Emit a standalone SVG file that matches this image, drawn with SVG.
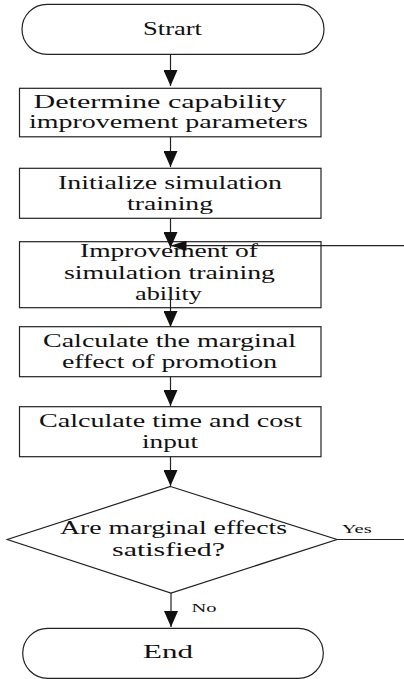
<svg xmlns="http://www.w3.org/2000/svg" width="404" height="679" viewBox="0 0 404 679">
<style>
.shape{fill:#fff;stroke:#222;stroke-width:1.2}
.t{font-family:"Liberation Serif","Times New Roman",serif;font-size:19px;fill:#111;text-anchor:middle}
.s{font-family:"Liberation Serif","Times New Roman",serif;font-size:13px;fill:#111;text-anchor:middle}
.c{fill:none;stroke:#222;stroke-width:1.2}
</style>
<defs>
<marker id="ah" markerWidth="16" markerHeight="14" refX="16" refY="7" orient="auto" markerUnits="userSpaceOnUse"><path d="M0,0 L16,7 L0,14 z" fill="#111"/></marker>
<marker id="ahs" markerWidth="16" markerHeight="10" refX="16" refY="5" orient="auto" markerUnits="userSpaceOnUse"><path d="M0,0 L16,5 L0,10 z" fill="#111"/></marker>
</defs>
<rect width="404" height="679" fill="#fff"/>
<g id="start">
<rect class="shape" x="22" y="4.3" width="302" height="50" rx="25" ry="25"/>
<text class="t" x="172.5" y="35" textLength="59" lengthAdjust="spacingAndGlyphs">Strart</text>
</g>
<g id="determine">
<rect class="shape" x="19.5" y="88.3" width="301.5" height="48.5"/>
<text class="t" x="160" y="108" textLength="253" lengthAdjust="spacingAndGlyphs">Determine capability</text>
<text class="t" x="168.5" y="128" textLength="279" lengthAdjust="spacingAndGlyphs">improvement parameters</text>
</g>
<g id="initialize">
<rect class="shape" x="19.5" y="168.3" width="301.5" height="50"/>
<text class="t" x="170" y="188.5" textLength="224" lengthAdjust="spacingAndGlyphs">Initialize simulation</text>
<text class="t" x="170" y="209.5" textLength="86" lengthAdjust="spacingAndGlyphs">training</text>
</g>
<g id="improvement">
<rect class="shape" x="19.5" y="241.7" width="301.5" height="66"/>
<text class="t" x="169" y="257" textLength="178" lengthAdjust="spacingAndGlyphs">Improvement of</text>
<text class="t" x="169.5" y="278.5" textLength="211" lengthAdjust="spacingAndGlyphs">simulation training</text>
<text class="t" x="168.5" y="300" textLength="67" lengthAdjust="spacingAndGlyphs">ability</text>
</g>
<g id="marginal">
<rect class="shape" x="19.5" y="326.7" width="301.5" height="50"/>
<text class="t" x="169.5" y="346.5" textLength="253" lengthAdjust="spacingAndGlyphs">Calculate the marginal</text>
<text class="t" x="169.5" y="368" textLength="215" lengthAdjust="spacingAndGlyphs">effect of promotion</text>
</g>
<g id="timecost">
<rect class="shape" x="19.5" y="406.7" width="301.5" height="50"/>
<text class="t" x="170.5" y="426.5" textLength="263" lengthAdjust="spacingAndGlyphs">Calculate time and cost</text>
<text class="t" x="170" y="447.5" textLength="56" lengthAdjust="spacingAndGlyphs">input</text>
</g>
<g id="decision">
<polygon class="shape" points="170.5,486.5 337,539.5 171,593 7.3,539.5"/>
<text class="t" x="173.5" y="534" textLength="227" lengthAdjust="spacingAndGlyphs">Are marginal effects</text>
<text class="t" x="168.5" y="556" textLength="113" lengthAdjust="spacingAndGlyphs">satisfied?</text>
</g>
<g id="end">
<rect class="shape" x="22.7" y="628.3" width="300.6" height="50" rx="25" ry="25"/>
<text class="t" x="168" y="658.3" textLength="50" lengthAdjust="spacingAndGlyphs">End</text>
</g>
<g id="connectors">
<line class="c" x1="170.5" y1="54.3" x2="170.5" y2="86" marker-end="url(#ah)"/>
<line class="c" x1="170.5" y1="136.8" x2="170.5" y2="167" marker-end="url(#ah)"/>
<line class="c" x1="170.5" y1="218.3" x2="170.5" y2="248" marker-end="url(#ah)"/>
<line class="c" x1="404" y1="245.7" x2="170.5" y2="245.7" marker-end="url(#ahs)"/>
<line class="c" x1="170.5" y1="294" x2="170.5" y2="327" marker-end="url(#ah)"/>
<line class="c" x1="170.5" y1="376.7" x2="170.5" y2="406" marker-end="url(#ah)"/>
<line class="c" x1="170.5" y1="456.7" x2="170.5" y2="486" marker-end="url(#ah)"/>
<line class="c" x1="337" y1="539.5" x2="404" y2="539.5"/>
<line class="c" x1="171" y1="593" x2="171" y2="627" marker-end="url(#ah)"/>
<text class="s" x="356.7" y="532.5" textLength="30" lengthAdjust="spacingAndGlyphs">Yes</text>
<text class="s" x="204" y="611.7" textLength="25" lengthAdjust="spacingAndGlyphs">No</text>
</g>
</svg>
